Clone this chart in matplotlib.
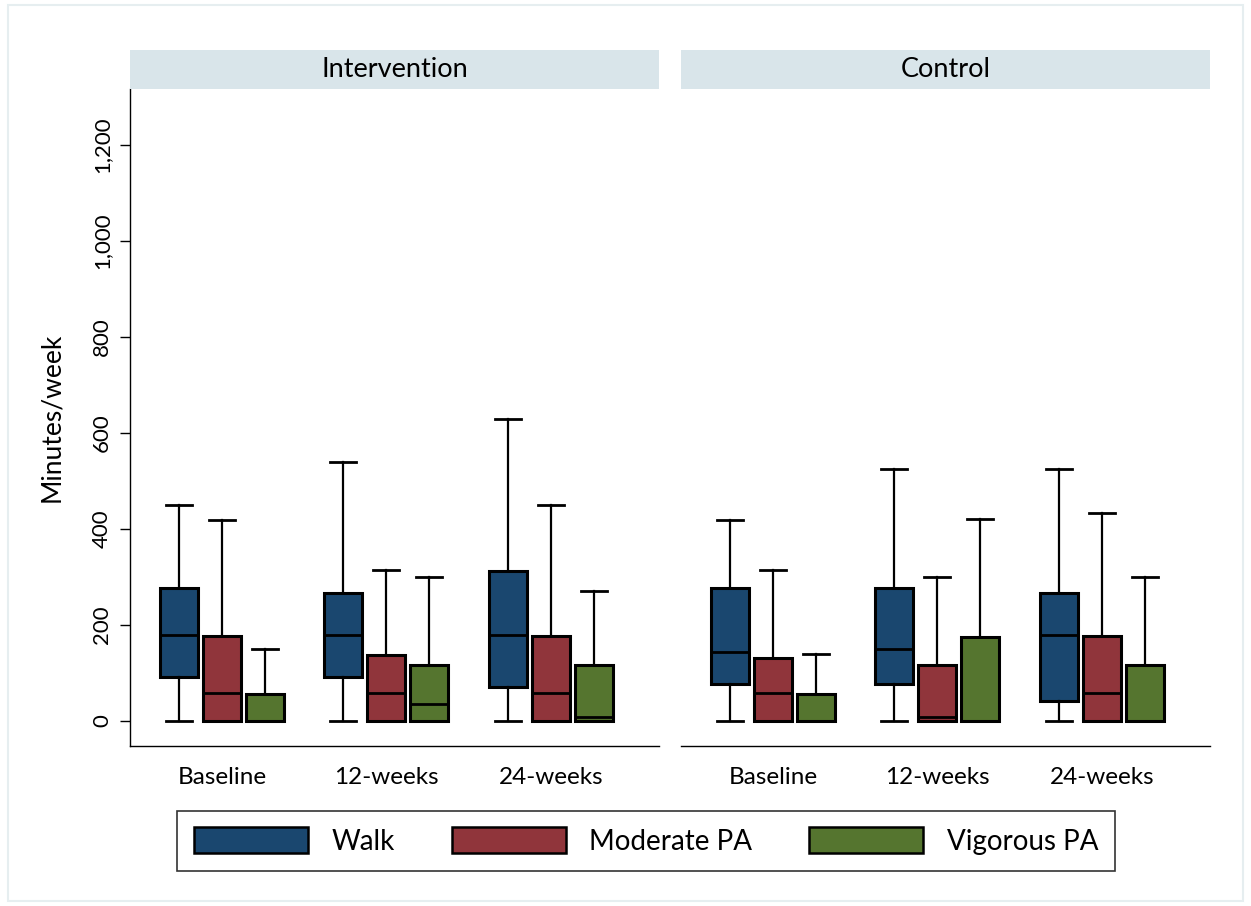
import matplotlib
matplotlib.use("Agg")
import matplotlib.pyplot as plt
from matplotlib.patches import Patch, Rectangle

plt.rcParams['font.family'] = ['Lato', 'DejaVu Sans']

panels = ['Intervention', 'Control']
timepoints = ['Baseline', '12-weeks', '24-weeks']
activities = ['Walk', 'Moderate PA', 'Vigorous PA']
colors = ['#1A476F', '#90353B', '#55752F']

# box stats per panel -> timepoint -> activity: (whislo, q1, med, q3, whishi)
intervention_walk = [(0, 92, 179, 277, 450), (0, 92, 179, 267, 540), (0, 71, 179, 313, 629)]
intervention_mod = [(0, 0, 58, 177, 419), (0, 0, 58, 137, 315), (0, 0, 58, 177, 450)]
intervention_vig = [(0, 0, 0, 56, 150), (0, 0, 35, 117, 300), (0, 0, 8, 117, 270)]
control_walk = [(0, 77, 144, 277, 419), (0, 77, 150, 277, 525), (0, 42, 179, 267, 525)]
control_mod = [(0, 0, 58, 131, 315), (0, 0, 8, 117, 300), (0, 0, 58, 177, 433)]
control_vig = [(0, 0, 0, 56, 140), (0, 0, 0, 175, 420), (0, 0, 0, 117, 300)]

panel_data = {
    'Intervention': [intervention_walk, intervention_mod, intervention_vig],
    'Control': [control_walk, control_mod, control_vig],
}

fig = plt.figure(figsize=(12.51, 9.06), dpi=100)
fig.patches.append(Rectangle((0.006, 0.006), 0.988, 0.988, transform=fig.transFigure,
                             fill=False, edgecolor='#E6EEF0', linewidth=1.5))

lefts = [130 / 1251, 681 / 1251]
width = 529 / 1251
bottom = (906 - 746) / 906
height = (746 - 89) / 906
strip_h = 39 / 906

group_x = [49, 213, 378]
offsets = [0, 43, 86]

for p, name in enumerate(panels):
    ax = fig.add_axes([lefts[p], bottom, width, height])
    for a in range(3):
        stats = []
        for t in range(3):
            lo, q1, med, q3, hi = panel_data[name][a][t]
            stats.append(dict(whislo=lo, q1=q1, med=med, q3=q3, whishi=hi, fliers=[]))
        pos = [g + offsets[a] for g in group_x]
        ax.bxp(stats, positions=pos, widths=38, capwidths=26, patch_artist=True,
               showfliers=False,
               boxprops=dict(facecolor=colors[a], edgecolor='black', linewidth=2.2),
               medianprops=dict(color='black', linewidth=2.0),
               whiskerprops=dict(color='black', linewidth=1.6),
               capprops=dict(color='black', linewidth=2.0))
    ax.set_xlim(0, 529)
    ax.set_ylim(-52, 1317)
    ax.set_xticks([g + 43 for g in group_x])
    ax.set_xticklabels(timepoints, fontsize=17.5)
    ax.tick_params(axis='x', length=0, pad=15)
    for s in ['top', 'right']:
        ax.spines[s].set_visible(False)
    ax.spines['bottom'].set_linewidth(1.0)
    if p == 0:
        ax.set_yticks([0, 200, 400, 600, 800, 1000, 1200])
        ax.set_yticklabels(['0', '200', '400', '600', '800', '1,000', '1,200'],
                           rotation=90, va='center', fontsize=16)
        ax.tick_params(axis='y', length=7, width=1.0, pad=6)
        ax.set_ylabel('Minutes/week', fontsize=19, labelpad=20)
        ax.spines['left'].set_linewidth(1.0)
    else:
        ax.set_yticks([])
        ax.spines['left'].set_visible(False)

    sax = fig.add_axes([lefts[p], bottom + height, width, strip_h])
    sax.set_facecolor('#D9E5EA')
    sax.set_xticks([])
    sax.set_yticks([])
    for s in sax.spines.values():
        s.set_visible(False)
    sax.text(0.5, 0.5, name, ha='center', va='center', fontsize=19.5, transform=sax.transAxes)

handles = [Patch(facecolor=c, edgecolor='black', linewidth=1.8) for c in colors]
leg = fig.legend(handles, activities, loc='center', bbox_to_anchor=(646 / 1251, (906 - 841) / 906),
                 ncol=3, fontsize=20, frameon=True, fancybox=False, edgecolor='black',
                 handlelength=4.1, handleheight=1.05, columnspacing=2.05, handletextpad=0.85,
                 borderpad=0.6)
leg.get_frame().set_linewidth(1.2)

fig.savefig('out.png', dpi=100)
